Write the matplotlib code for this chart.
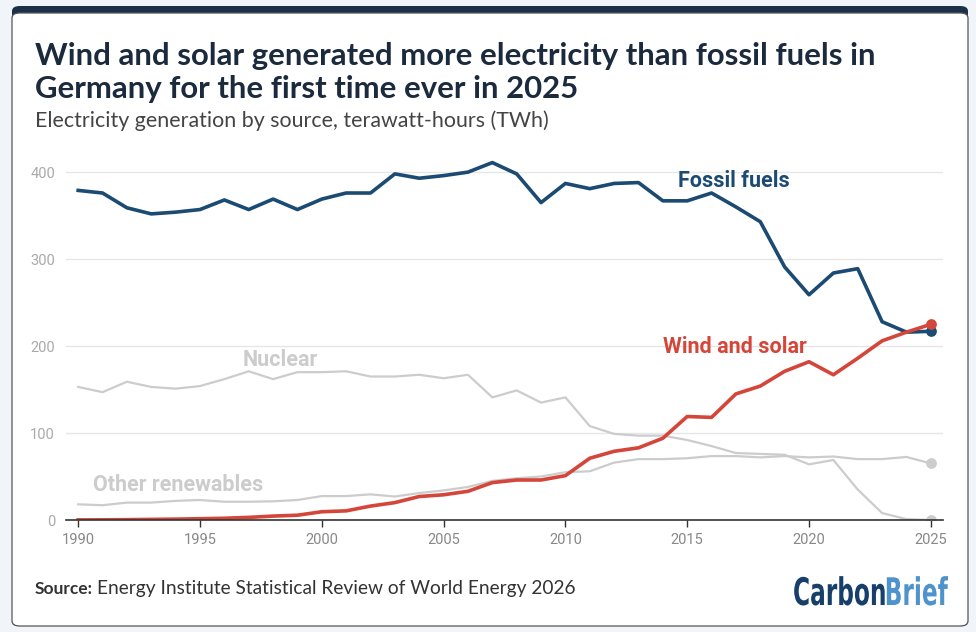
import matplotlib
matplotlib.use("Agg")
import matplotlib.pyplot as plt
from matplotlib import font_manager
from matplotlib.patches import FancyBboxPatch, PathPatch
from matplotlib.textpath import TextPath
from matplotlib.transforms import Affine2D

# data (TWh)
years = list(range(1990, 2026))
fossil = [379, 376, 359, 352, 354, 357, 368, 357, 369, 357,
          369, 376, 376, 398, 393, 396, 400, 411, 398, 365,
          387, 381, 387, 388, 367, 367, 376, 360, 343, 291,
          259, 284, 289, 228, 216, 217]
wind_solar = [0.1, 0.2, 0.4, 0.7, 1.0, 1.5, 2.0, 3.0, 4.5, 5.5,
              9.5, 10.5, 16, 20, 27, 29, 33, 43, 46, 46,
              51, 71, 79, 83, 94, 119, 118, 145, 154, 171,
              182, 167, 186, 206, 216, 225]
nuclear = [153, 147, 159, 153, 151, 154, 162, 171, 162, 170,
           170, 171, 165, 165, 167, 163, 167, 141, 149, 135,
           141, 108, 99, 97, 97, 92, 85, 77, 76, 75,
           64, 69, 35, 8, 1, 0]
other_renew = [18, 17, 20, 20, 22, 23, 21, 21, 21.5, 23,
               27.5, 27.5, 29.5, 27, 31, 34, 38, 45, 48, 50,
               55, 56, 66, 70, 70, 71, 73.5, 73.5, 72, 73.5,
               72, 73, 70, 70, 72.5, 65]

title_lines = ["Wind and solar generated more electricity than fossil fuels in",
               "Germany for the first time ever in 2025"]
subtitle = "Electricity generation by source, terawatt-hours (TWh)"
source = "Energy Institute Statistical Review of World Energy 2026"

navy = "#1b4a72"
red = "#d4453a"
grey = "#cccccc"

names = {f.name for f in font_manager.fontManager.ttflist}
head_font = "Lato" if "Lato" in names else "DejaVu Sans"
label_font = "Roboto" if "Roboto" in names else "DejaVu Sans"

W, H = 976, 632
fig = plt.figure(figsize=(W / 100, H / 100), dpi=100)
fig.patch.set_facecolor("#f1f4f8")


def fx(px):
    return px / W


def fy(py):
    return 1 - py / H


def fit_width(txt, target_px):
    # shrink/grow font so the text spans target_px
    fig.canvas.draw()
    w = txt.get_window_extent().width
    txt.set_fontsize(txt.get_fontsize() * target_px / w)


# card with dark top strip
fig.patches.append(FancyBboxPatch((fx(12), fy(626)), fx(956), (626 - 6) / H,
                                  boxstyle="round,pad=0,rounding_size=0.008",
                                  transform=fig.transFigure, facecolor="#1c3049",
                                  edgecolor="none", zorder=-10))
fig.patches.append(FancyBboxPatch((fx(12), fy(626)), fx(956), (626 - 13) / H,
                                  boxstyle="round,pad=0,rounding_size=0.008",
                                  transform=fig.transFigure, facecolor="white",
                                  edgecolor="#555555", linewidth=0.9, zorder=-9))

ax = fig.add_axes([fx(66), fy(520), fx(943 - 66), (520 - 150.4) / H])
ax.set_facecolor("none")

ax.plot(years, nuclear, color=grey, lw=1.6, zorder=2)
ax.plot(years, other_renew, color=grey, lw=1.6, zorder=2)
ax.plot(years, fossil, color=navy, lw=2.6, zorder=3)
ax.plot(years, wind_solar, color=red, lw=2.6, zorder=4)
ax.scatter([years[-1]] * 2, [nuclear[-1], other_renew[-1]], s=45, color=grey, zorder=3)
ax.scatter([years[-1]], [fossil[-1]], s=45, color=navy, zorder=5)
ax.scatter([years[-1]], [wind_solar[-1]], s=45, color=red, zorder=5)

ax.set_xlim(1989.5, 2025.5)
ax.set_ylim(0, 425)
ax.set_yticks([0, 100, 200, 300, 400])
ax.set_xticks(range(1990, 2026, 5))
ax.grid(axis="y", color="#e6e6e6", lw=1)
ax.set_axisbelow(True)
for s in ["left", "right", "top"]:
    ax.spines[s].set_visible(False)
ax.spines["bottom"].set_color("#333333")
ax.spines["bottom"].set_linewidth(1.2)
ax.spines["bottom"].set_zorder(6)
ax.tick_params(axis="y", length=0, pad=8, labelsize=10.5, labelcolor="#aaaaaa")
ax.tick_params(axis="x", length=5, width=1, color="#333333", pad=4,
               labelsize=10.5, labelcolor="#888888")
for t in ax.get_xticklabels() + ax.get_yticklabels():
    t.set_fontfamily(label_font)

lab = dict(fontsize=15.5, fontweight="bold", family=label_font, ha="center", va="center")
ax.text(2016.9, 390, "Fossil fuels", color=navy, **lab)
ax.text(2016.95, 199.5, "Wind and solar", color=red, **lab)
ax.text(1998.3, 184, "Nuclear", color=grey, **lab)
ax.text(1994.1, 40.5, "Other renewables", color=grey, **lab)

t1 = fig.text(fx(35), fy(65.5), title_lines[0], family=head_font, fontweight="bold",
              fontsize=20, color="#1b2a3d")
fit_width(t1, 840)
fig.text(fx(35), fy(98), title_lines[1], family=head_font, fontweight="bold",
         fontsize=t1.get_fontsize(), color="#1b2a3d")
st = fig.text(fx(35), fy(127), subtitle, family=head_font, fontsize=13, color="#444444")
fit_width(st, 510)

src = fig.text(fx(35), fy(594), "Source:", family=head_font, fontweight="bold",
               fontsize=12.5, color="#333333")
src2 = fig.text(fx(100), fy(594), source, family=head_font, fontsize=12.5, color="#333333")
fig.canvas.draw()
bb = src.get_window_extent()
src2.set_x(bb.x1 / W + fx(4))
fit_width(src2, 577 - bb.x1 - 4)

# logo: condensed bold lettering squeezed to the right width
logo_prop = font_manager.FontProperties(family="DejaVu Sans", stretch="condensed", weight="bold")
p1 = TextPath((0, 0), "Carbon", size=38, prop=logo_prop)
p2 = TextPath((0, 0), "Brief", size=38, prop=logo_prop)
w1 = p1.get_extents().x1
w2 = p2.get_extents().x1
sx = 155 / (w1 + w2)
x0, base = 793, 605
for path, off, col in [(p1, 0, "#173f69"), (p2, w1 * sx, "#4f93cc")]:
    tr = Affine2D().scale(sx / W, 1 / H).translate(fx(x0 + off), fy(base)) + fig.transFigure
    fig.patches.append(PathPatch(path, transform=tr, facecolor=col, edgecolor="none"))

fig.savefig("out.png", dpi=100, facecolor=fig.get_facecolor())
